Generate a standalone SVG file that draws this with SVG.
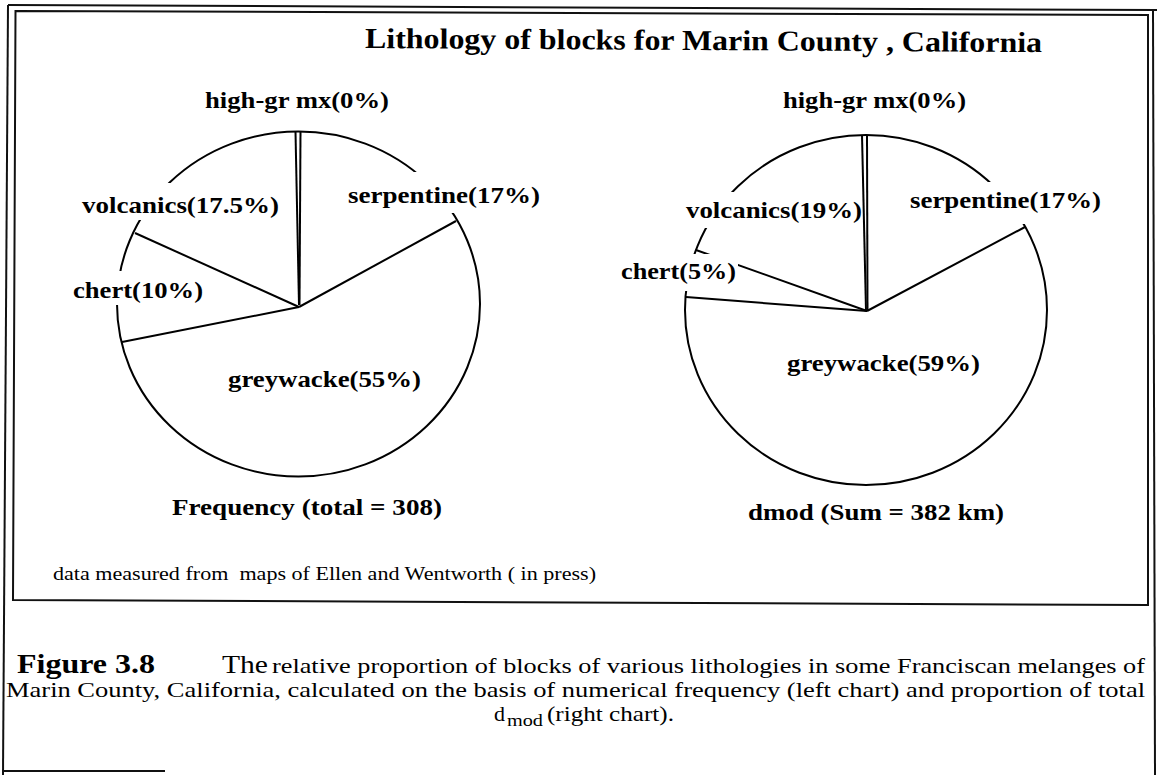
<svg xmlns="http://www.w3.org/2000/svg" width="1157" height="775" viewBox="0 0 1157 775" font-family="Liberation Serif, Times New Roman, serif">
  <style>
    .frame { fill: none; stroke: #111; stroke-width: 2; }
    .pie { fill: none; stroke: #000; stroke-width: 2; }
    .mask { fill: #fff; stroke: none; }
    .lbl { font-weight: bold; font-size: 24px; }
    .title { font-weight: bold; font-size: 29px; }
    .cap { font-size: 22px; }
    .note { font-size: 19px; }
  </style>
  <rect x="0" y="0" width="1157" height="775" fill="#fff"/>

  <!-- page frame and chart box -->
  <g id="frame">
    <path class="frame" d="M8 5 L1157 10"/>
    <path class="frame" d="M8 5 L3 775"/>
    <path class="frame" d="M1153 10 L1155 775"/>
    <path class="frame" d="M3 771 L165 771" stroke="#333"/>
    <path class="frame" d="M15.5 11 L1148 15 L1148 605 L13 600 Z"/>
  </g>

  <g id="title">
    <text class="title" x="365" y="48" textLength="677" lengthAdjust="spacingAndGlyphs" transform="rotate(0.35 365 48)">Lithology of blocks for Marin County , California</text>
  </g>

  <!-- left chart: frequency -->
  <g id="pie-frequency">
    <g id="pie-frequency-slices">
      <ellipse class="pie" cx="298.5" cy="304" rx="181.5" ry="172.5"/>
      <path class="pie" d="M299 307 L456 221"/>
      <path class="pie" d="M299 307 L135 233"/>
      <path class="pie" d="M299 307 L122 342"/>
      <path class="pie" d="M295.5 132 L299 305"/>
      <path class="pie" d="M300.5 132 L299.5 305"/>
    </g>
    <g id="pie-frequency-labels">
      <rect class="mask" x="79" y="183" width="203" height="37"/>
      <rect class="mask" x="345" y="172" width="198" height="41"/>
      <rect class="mask" x="70" y="271" width="136" height="34"/>
      <text class="lbl" x="205" y="108" textLength="184" lengthAdjust="spacingAndGlyphs">high-gr mx(0%)</text>
      <text class="lbl" x="348" y="203" textLength="192" lengthAdjust="spacingAndGlyphs">serpentine(17%)</text>
      <text class="lbl" x="82" y="213" textLength="197" lengthAdjust="spacingAndGlyphs">volcanics(17.5%)</text>
      <text class="lbl" x="73" y="298" textLength="130" lengthAdjust="spacingAndGlyphs">chert(10%)</text>
      <text class="lbl" x="228" y="387" textLength="193" lengthAdjust="spacingAndGlyphs">greywacke(55%)</text>
      <text class="lbl" x="172" y="515" textLength="270" lengthAdjust="spacingAndGlyphs">Frequency (total = 308)</text>
    </g>
  </g>

  <!-- right chart: dmod -->
  <g id="pie-dmod">
    <g id="pie-dmod-slices">
      <ellipse class="pie" cx="866" cy="310" rx="181" ry="175"/>
      <path class="pie" d="M867 311 L1025 227"/>
      <path class="pie" d="M867 311 L696 250"/>
      <path class="pie" d="M867 311 L686 297"/>
      <path class="pie" d="M862 135 L866 311"/>
      <path class="pie" d="M867 135 L867.5 311"/>
    </g>
    <g id="pie-dmod-labels">
      <rect class="mask" x="682" y="192" width="178" height="36"/>
      <rect class="mask" x="907" y="182" width="196" height="42"/>
      <rect class="mask" x="618" y="254" width="120" height="37"/>
      <text class="lbl" x="783" y="108" textLength="183" lengthAdjust="spacingAndGlyphs">high-gr mx(0%)</text>
      <text class="lbl" x="686" y="218" textLength="176" lengthAdjust="spacingAndGlyphs">volcanics(19%)</text>
      <text class="lbl" x="910" y="208" textLength="191" lengthAdjust="spacingAndGlyphs">serpentine(17%)</text>
      <text class="lbl" x="621" y="279" textLength="115" lengthAdjust="spacingAndGlyphs">chert(5%)</text>
      <text class="lbl" x="787" y="371" textLength="193" lengthAdjust="spacingAndGlyphs">greywacke(59%)</text>
      <text class="lbl" x="748" y="520" textLength="256" lengthAdjust="spacingAndGlyphs">dmod (Sum = 382 km)</text>
    </g>
  </g>

  <g id="source-note">
    <text class="note" x="53" y="580" textLength="543" lengthAdjust="spacingAndGlyphs" xml:space="preserve">data measured from  maps of Ellen and Wentworth ( in press)</text>
  </g>

  <!-- figure caption -->
  <g id="caption" xml:space="preserve">
    <text class="cap" y="673"><tspan x="17" font-weight="bold" font-size="27" textLength="138" lengthAdjust="spacingAndGlyphs">Figure 3.8</tspan><tspan x="222" font-size="25" textLength="46" lengthAdjust="spacingAndGlyphs">The</tspan><tspan x="272" textLength="873" lengthAdjust="spacingAndGlyphs">relative proportion of blocks of various lithologies in  some Franciscan melanges of</tspan></text>
    <text class="cap" x="6" y="697" textLength="1139" lengthAdjust="spacingAndGlyphs">Marin County, California, calculated on the basis of numerical frequency (left chart) and proportion of  total</text>
    <text class="cap" y="721"><tspan x="494">d</tspan><tspan x="507" dy="5" font-size="17" textLength="36" lengthAdjust="spacingAndGlyphs">mod</tspan><tspan x="547" dy="-5" textLength="127" lengthAdjust="spacingAndGlyphs">(right chart).</tspan></text>
  </g>
</svg>
